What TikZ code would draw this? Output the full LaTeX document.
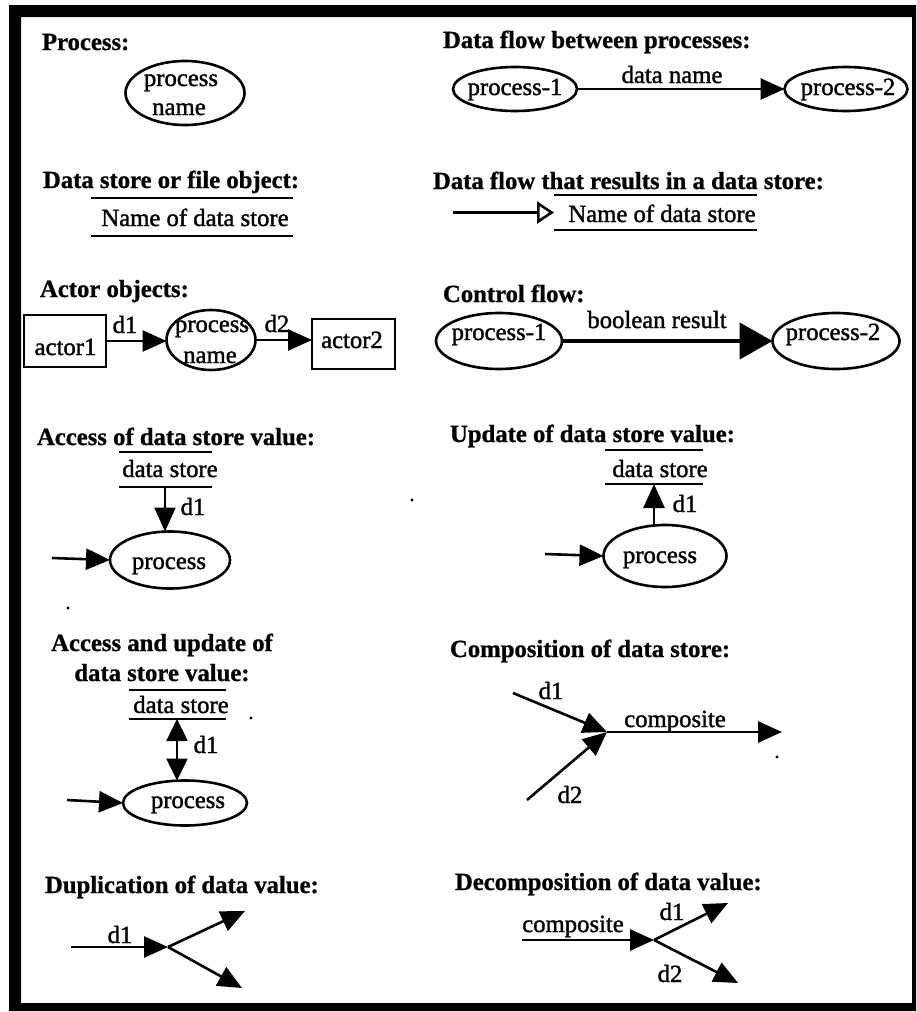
\documentclass[tikz,border=0pt]{standalone}
\usepackage{fontspec}
\setmainfont{Liberation Serif}
\newfontfamily\heavyserif{Liberation Serif}[FakeBold=1.4]
\newfontfamily\heavybold{Liberation Serif Bold}[FakeBold=0.9]
\usetikzlibrary{arrows.meta,shapes.geometric}
\begin{document}
\begin{tikzpicture}[x=1pt,y=-1pt,
  every node/.style={inner sep=0pt, outer sep=0pt, font=\heavyserif\fontsize{24.7}{30}\selectfont},
  ttl/.style={anchor=base west, font=\heavybold\fontsize{24.7}{30}\selectfont},
  txt/.style={anchor=base},
  ell/.style={draw, ellipse, line width=2.6pt},
  actorbox/.style={draw, rectangle, line width=2.6pt},
  dsbox/.style={draw=none, rectangle},
  dsline/.style={line width=2.6pt},
  flow/.style={line width=2.6pt, -{Triangle[length=24pt,width=21pt]}},
  flowboth/.style={line width=2.6pt, {Triangle[length=22pt,width=21pt]}-{Triangle[length=22pt,width=21pt]}},
  ctrl/.style={line width=4.6pt, -{Triangle[length=33pt,width=36pt]}},
  openflow/.style={line width=2.6pt, -{Triangle[open,length=17pt,width=22pt]}},
  speck/.style={fill=black}
]
\fill[white] (0,0) rectangle (917,1012);
\useasboundingbox (0,0) rectangle (917,1012);
% frame
\fill[black, even odd rule] (9,5) rectangle (916,1011) (21,17) rectangle (912,1003);

% ---------- Process ----------
\node[ttl] (t1) at (42,50) {Process:};
\node[ell, minimum width=119pt, minimum height=64pt] (p0) at (185,93) {};
\node[txt] (p0a) at (181,86) {process};
\node[txt] (p0b) at (179,115) {name};

% ---------- Data flow between processes ----------
\node[ttl] (t2) at (443,48) {Data flow between processes:};
\node[ell, minimum width=124pt, minimum height=44pt] (df1) at (515,89) {};
\node[txt] (df1t) at (515,95) {process-1};
\node[ell, minimum width=123pt, minimum height=44pt] (df2) at (846,89) {};
\node[txt] (df2t) at (848,95) {process-2};
\draw[flow] (df1.east) -- (df2.west);
\node[txt] (dfl) at (672,83) {data name};

% ---------- Data store ----------
\node[ttl] (t3) at (43,188) {Data store or file object:};
\node[dsbox, minimum width=202pt, minimum height=38pt] (dsL) at (192,217) {};
\draw[dsline] (dsL.north west) -- (dsL.north east) (dsL.south west) -- (dsL.south east);
\node[txt] (dsLt) at (195,226) {Name of data store};

% ---------- Data flow into data store ----------
\node[ttl] (t4) at (433,189) {Data flow that results in a data store:};
\node[dsbox, minimum width=203pt, minimum height=35pt] (dsR) at (655.5,212.5) {};
\draw[dsline] (dsR.north west) -- (dsR.north east) (dsR.south west) -- (dsR.south east);
\node[txt] (dsRt) at (662,222) {Name of data store};
\coordinate (s0) at (453,212.5);
\draw[openflow] (s0) -- (dsR.west);

% ---------- Actor objects ----------
\node[ttl] (t5) at (40,297) {Actor objects:};
\node[actorbox, minimum width=82pt, minimum height=52pt] (a1) at (65,341) {};
\node[txt] (a1t) at (65.5,355) {actor1};
\node[ell, minimum width=89pt, minimum height=60pt] (pa) at (211,340) {};
\node[txt] (pat1) at (212,332) {process};
\node[txt] (pat2) at (210,363) {name};
\node[actorbox, minimum width=83pt, minimum height=50pt] (a2) at (353.5,344) {};
\node[txt] (a2t) at (352,348) {actor2};
\draw[flow] (a1.east) -- (a1.east -| pa.west);
\draw[flow] (pa.east) -- (pa.east -| a2.west);
\node[txt] (ad1) at (125,333) {d1};
\node[txt] (ad2) at (277,332) {d2};

% ---------- Control flow ----------
\node[ttl] (t6) at (443,302) {Control flow:};
\node[ell, minimum width=126pt, minimum height=56pt] (cf1) at (499,341) {};
\node[txt] (cf1t) at (499,340) {process-1};
\node[ell, minimum width=127pt, minimum height=56pt] (cf2) at (836,341) {};
\node[txt] (cf2t) at (833,340) {process-2};
\draw[ctrl] (cf1.east) -- (cf2.west);
\node[txt] (cfl) at (657,328) {boolean result};

% ---------- Access of data store value ----------
\node[ttl] (t7) at (37,445) {Access of data store value:};
\node[dsbox, minimum width=93pt, minimum height=35pt] (dsA) at (165,469.5) {};
\draw[dsline] (dsA.north west) -- (dsA.north east) (dsA.south west) -- (dsA.south east);
\node[txt] (dsAt) at (170,477) {data store};
\node[ell, minimum width=120pt, minimum height=57pt] (pacc) at (170,560) {};
\node[txt] (pacct) at (169,569) {process};
\draw[flow] (dsA.south) -- (dsA.south |- pacc.north);
\node[txt] (accd1) at (193,515) {d1};
\coordinate (inA) at (52,558);
\draw[flow] (inA) -- (pacc.west);

% ---------- Update of data store value ----------
\node[ttl] (t8) at (450,442) {Update of data store value:};
\node[dsbox, minimum width=98pt, minimum height=34pt] (dsU) at (654,467) {};
\draw[dsline] (dsU.north west) -- (dsU.north east) (dsU.south west) -- (dsU.south east);
\node[txt] (dsUt) at (660,477) {data store};
\node[ell, minimum width=123pt, minimum height=62pt] (pupd) at (665,556) {};
\node[txt] (pupdt) at (660,563) {process};
\draw[flow] (dsU.south |- pupd.north) -- (dsU.south);
\node[txt] (updd1) at (685,512) {d1};
\coordinate (inU) at (545,554);
\draw[flow] (inU) -- (pupd.west);

% ---------- Access and update ----------
\node[ttl, anchor=base, align=center] (t9) at (162,681) {Access and update of\\data store value:};
\node[dsbox, minimum width=97pt, minimum height=29pt] (dsB) at (177,704.5) {};
\draw[dsline] (dsB.north west) -- (dsB.north east) (dsB.south west) -- (dsB.south east);
\node[txt] (dsBt) at (181,713) {data store};
\node[ell, minimum width=124pt, minimum height=45pt] (pau) at (185,803) {};
\node[txt] (paut) at (188,808) {process};
\draw[flowboth] (dsB.south) -- (dsB.south |- pau.north);
\node[txt] (aud1) at (206,753) {d1};
\coordinate (inB) at (67,800);
\draw[flow] (inB) -- (pau.west);

% ---------- Composition ----------
\node[ttl] (t10) at (450,657) {Composition of data store:};
\coordinate (cJ) at (607,732);
\coordinate (cA) at (513,693);
\coordinate (cB) at (527,800);
\coordinate (cC) at (782,732);
\draw[flow] (cA) -- (cJ);
\draw[flow] (cB) -- (cJ);
\draw[flow] (cJ) -- (cC);
\node[txt] (cd1) at (551,699) {d1};
\node[txt] (cd2) at (570,803) {d2};
\node[txt] (ccomp) at (675,727) {composite};

% ---------- Duplication ----------
\node[ttl] (t11) at (45,893) {Duplication of data value:};
\coordinate (uS) at (71,947);
\coordinate (uJ) at (168,947);
\coordinate (uA) at (245,911);
\coordinate (uB) at (242,988);
\draw[flow] (uS) -- (uJ);
\draw[flow] (uJ) -- (uA);
\draw[flow] (uJ) -- (uB);
\node[txt] (ud1) at (120,943) {d1};

% ---------- Decomposition ----------
\node[ttl] (t12) at (455,890) {Decomposition of data value:};
\coordinate (dS) at (522,940);
\coordinate (dJ) at (654,940);
\coordinate (dA) at (728,903);
\coordinate (dB) at (738,983);
\draw[flow] (dS) -- (dJ);
\draw[flow] (dJ) -- (dA);
\draw[flow] (dJ) -- (dB);
\node[txt] (dcomp) at (573,932) {composite};
\node[txt] (dd1) at (672,920) {d1};
\node[txt] (dd2) at (670,982) {d2};

% scan specks
\fill[speck] (412,500) circle (1.6pt);
\fill[speck] (68,608) circle (1.6pt);
\fill[speck] (251,718) circle (1.6pt);
\fill[speck] (777,757) circle (1.6pt);
\end{tikzpicture}
\end{document}
